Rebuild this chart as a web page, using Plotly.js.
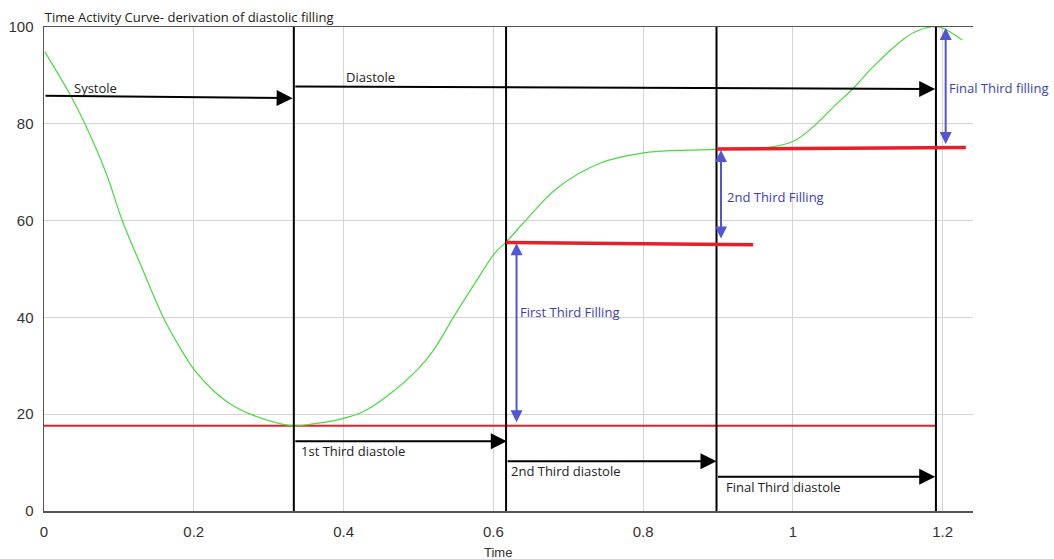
<!DOCTYPE html>
<html>
<head>
<meta charset="utf-8">
<script src="https://cdn.plot.ly/plotly-3.0.1.min.js"></script>
<style>html,body{margin:0;padding:0;background:#fff;}#chart{width:1054px;height:559px;}</style>
</head>
<body>
<div id="chart"></div>
<script>
// Time activity curve (green)
var curveX = [0.001,0.036,0.054,0.083,0.105,0.132,0.159,0.181,0.201,0.226,0.252,0.279,0.315,0.334,0.355,0.399,0.426,0.457,0.498,0.520,0.547,0.578,0.602,0.618,0.640,0.685,0.743,0.801,0.845,0.899,0.965,1.001,1.028,1.055,1.081,1.108,1.139,1.162,1.184,1.198,1.226];
var curveY = [94.9,85.7,80.2,69.8,59.8,49.8,40.1,33.9,29.1,24.9,21.8,19.8,18.05,17.6,17.9,19.1,20.5,23.6,29.1,33.2,40.1,47.7,53.3,55.7,59.5,66.7,71.9,74.0,74.5,74.7,75.1,76.4,79.5,83.6,87.4,91.9,96.4,98.9,100.0,99.9,97.3];

// Phase boundaries (vertical black lines)
var boundaries = [0.3336, 0.617, 0.898, 1.191];

// End diastolic baseline and filling levels (red)
var baselineY = 17.6;
var fill1X = [0.617, 0.947], fill1Y = [55.5, 55.0];
var fill2X = [0.898, 1.231], fill2Y = [74.8, 75.1];

// Black phase arrows: [x0, y0, x1, y1]
var phaseArrows = [
  [0.0, 85.8, 0.332, 85.3],
  [0.3336, 87.7, 1.190, 87.2],
  [0.3336, 14.4, 0.618, 14.4],
  [0.617, 10.3, 0.898, 10.3],
  [0.898, 7.1, 1.190, 7.1]
];
var phaseLabels = ["Systole", "Diastole", "1st Third diastole", "2nd Third diastole", "Final Third diastole"];
var phaseLabelX = [0.038, 0.401, 0.341, 0.621, 0.908];
var phaseLabelY = [87.4, 89.6, 12.4, 8.3, 5.0];

// Blue filling arrows: [x, yBottom, yTop]
var fillArrows = [
  [0.631, 18.05, 55.3],
  [0.904, 56.0, 74.6],
  [1.204, 75.5, 99.8]
];
var fillLabels = ["First Third Filling", "2nd Third Filling", "Final Third filling"];
var fillLabelX = [0.633, 0.909, 1.206];
var fillLabelY = [41.1, 64.9, 87.5];

var xTicks = [0, 0.2, 0.4, 0.6, 0.8, 1, 1.2];
var xTickText = ["0", "0.2", "0.4", "0.6", "0.8", "1", "1.2"];
var yTicks = [0, 20, 40, 60, 80, 100];

var red = "rgb(232,30,40)";
var blue = "rgb(80,86,212)";
var txtFont = {family: "Open Sans, sans-serif", size: 13, color: "#222"};
var blueFont = {family: "Open Sans, sans-serif", size: 13, color: "rgb(60,60,190)"};

var traces = [];
// baseline
traces.push({x: [0, boundaries[3]], y: [baselineY, baselineY], mode: "lines", line: {color: red, width: 2}, hoverinfo: "skip"});
// green curve
traces.push({x: curveX, y: curveY, mode: "lines", line: {color: "rgb(70,220,60)", width: 1.2, shape: "spline", smoothing: 1}, hoverinfo: "skip"});
// vertical boundaries
boundaries.forEach(function (b) {
  traces.push({x: [b, b], y: [0, 100], mode: "lines", line: {color: "#000", width: 2}, hoverinfo: "skip"});
});
// filling level lines
traces.push({x: fill1X, y: fill1Y, mode: "lines", line: {color: red, width: 3.5}, hoverinfo: "skip"});
traces.push({x: fill2X, y: fill2Y, mode: "lines", line: {color: red, width: 3.5}, hoverinfo: "skip"});

var annotations = [];
phaseArrows.forEach(function (a) {
  annotations.push({x: a[2], y: a[3], ax: a[0], ay: a[1], xref: "x", yref: "y", axref: "x", ayref: "y",
    text: "", showarrow: true, arrowhead: 2, arrowsize: 1.6, arrowwidth: 2, arrowcolor: "#000", standoff: 0});
});
phaseLabels.forEach(function (t, i) {
  annotations.push({x: phaseLabelX[i], y: phaseLabelY[i], xref: "x", yref: "y", text: t, showarrow: false,
    xanchor: "left", yanchor: "middle", font: txtFont});
});
fillArrows.forEach(function (a) {
  annotations.push({x: a[0], y: a[2], ax: a[0], ay: a[1], xref: "x", yref: "y", axref: "x", ayref: "y",
    text: "", showarrow: true, arrowside: "end+start", arrowhead: 2, startarrowhead: 2,
    arrowsize: 1.2, startarrowsize: 1.2, arrowwidth: 2, arrowcolor: blue, standoff: 0, startstandoff: 0});
});
fillLabels.forEach(function (t, i) {
  annotations.push({x: fillLabelX[i], y: fillLabelY[i], xref: "x", yref: "y", text: t, showarrow: false,
    xanchor: "left", yanchor: "middle", font: blueFont});
});
annotations.push({x: 0.606, y: 0, xref: "x", yref: "paper", yshift: -41, text: "Time", showarrow: false,
  xanchor: "center", yanchor: "middle", font: {family: "Liberation Sans, Arial, sans-serif", size: 13, color: "#333"}});

var layout = {
  width: 1054, height: 559,
  margin: {l: 44, r: 81, t: 27, b: 48},
  paper_bgcolor: "#fff", plot_bgcolor: "#fff",
  showlegend: false,
  title: {text: "Time Activity Curve- derivation of diastolic filling", x: 0.0425, xanchor: "left",
    y: 0.9687, yanchor: "middle", font: {family: "Open Sans, sans-serif", size: 13, color: "#222"}},
  xaxis: {range: [0, 1.2405], tickvals: xTicks, ticktext: xTickText, showgrid: true, gridcolor: "#d4d4d4", gridwidth: 1,
    zeroline: false, showline: true, linecolor: "#555", linewidth: 1.5, mirror: true, ticks: "",
    ticklabelstandoff: 6, tickfont: {family: "Liberation Sans, Arial, sans-serif", size: 15, color: "#333"}},
  yaxis: {range: [0, 100], tickvals: yTicks, showgrid: true, gridcolor: "#d4d4d4", gridwidth: 1,
    zeroline: false, showline: true, linecolor: "#555", linewidth: 1.5, ticks: "",
    ticklabelstandoff: 6, tickfont: {family: "Liberation Sans, Arial, sans-serif", size: 15, color: "#333"}},
  annotations: annotations
};

Plotly.newPlot("chart", traces, layout, {displayModeBar: false, staticPlot: true});
</script>
</body>
</html>
